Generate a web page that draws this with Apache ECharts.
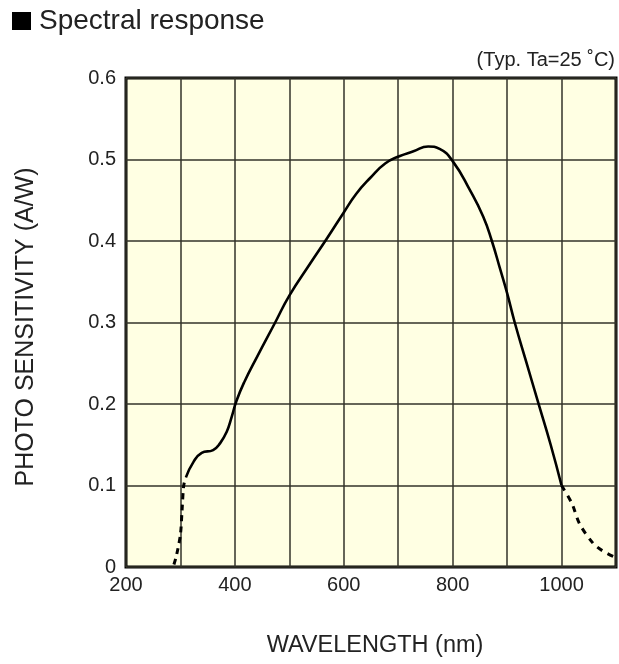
<!DOCTYPE html>
<html>
<head>
<meta charset="utf-8">
<script src="https://cdn.jsdelivr.net/npm/echarts@6/dist/echarts.min.js"></script>
<style>
html,body{margin:0;padding:0;background:#fff;}
#c{width:619px;height:664px;}
</style>
</head>
<body>
<div id="c"></div>
<script>
// Solid (measured) part of the spectral response curve
var solidWavelength = [310, 324, 339, 360, 373, 385, 394, 403, 418, 440, 474, 500, 538, 569, 600, 623, 648, 676, 702, 728, 755, 776, 800, 832, 856, 872, 887, 900, 914, 935, 957, 980, 1000];
var solidSensitivity = [0.110, 0.129, 0.140, 0.1435, 0.152, 0.166, 0.184, 0.204, 0.228, 0.257, 0.300, 0.333, 0.372, 0.403, 0.435, 0.458, 0.477, 0.495, 0.504, 0.510, 0.516, 0.513, 0.498, 0.462, 0.430, 0.400, 0.366, 0.336, 0.300, 0.252, 0.202, 0.150, 0.100];
// Dashed (extrapolated) ends
var lowWavelength = [288, 293, 300, 303, 306, 310];
var lowSensitivity = [0.003, 0.015, 0.040, 0.070, 0.100, 0.110];
var highWavelength = [1000, 1019, 1033, 1058, 1075, 1095];
var highSensitivity = [0.100, 0.078, 0.053, 0.029, 0.020, 0.013];
// Axis ticks
var xTickLabels = [200, 400, 600, 800, 1000];
var yTickLabels = [0, 0.1, 0.2, 0.3, 0.4, 0.5, 0.6];

function pairs(xs, ys) { return xs.map(function (x, i) { return [x, ys[i]]; }); }

var font = 'Liberation Sans, Arial, Helvetica, sans-serif';
var txt = '#222';
var chart = echarts.init(document.getElementById('c'), null, {renderer: 'canvas'});
chart.setOption({
  animation: false,
  grid: {left: 126, right: 3, top: 78, bottom: 97, show: true, backgroundColor: '#FFFFE3', borderColor: '#000', borderWidth: 3, z: 0},
  xAxis: {
    type: 'value', min: 200, max: 1100, interval: 100,
    axisLine: {show: false}, axisTick: {show: false},
    splitLine: {show: true, lineStyle: {color: '#33332a', width: 1.5}},
    axisLabel: {
      margin: 8, color: txt, fontSize: 20, fontFamily: font,
      formatter: function (v) { return xTickLabels.indexOf(v) >= 0 ? String(v) : ''; }
    }
  },
  yAxis: {
    type: 'value', min: 0, max: 0.6, interval: 0.1,
    axisLine: {show: false}, axisTick: {show: false},
    splitLine: {show: true, lineStyle: {color: '#33332a', width: 1.5}},
    axisLabel: {
      margin: 10, color: txt, fontSize: 20, fontFamily: font,
      formatter: function (v) {
        var r = Math.round(v * 10) / 10;
        return yTickLabels.indexOf(r) >= 0 ? String(r) : '';
      }
    }
  },
  series: [
    {type: 'line', data: pairs(solidWavelength, solidSensitivity), smooth: 0.5, showSymbol: false,
     lineStyle: {color: '#000', width: 2.6}, z: 5},
    {type: 'line', data: pairs(lowWavelength, lowSensitivity), smooth: 0.3, showSymbol: false,
     lineStyle: {color: '#000', width: 3, type: [6, 5]}, z: 5},
    {type: 'line', data: pairs(highWavelength, highSensitivity), smooth: 0.3, showSymbol: false,
     lineStyle: {color: '#000', width: 3, type: [6, 6]}, z: 5}
  ],
  graphic: [
    {type: 'rect', left: 12, top: 12, shape: {width: 19, height: 18}, style: {fill: '#000'}},
    {type: 'text', left: 39, top: 7, style: {text: 'Spectral response', font: '28px ' + font, fill: txt}},
    {type: 'text', right: 4, top: 50, style: {text: '(Typ. Ta=25 \u02daC)', font: '20px ' + font, fill: txt}},
    {type: 'text', x: 375, y: 646, style: {text: 'WAVELENGTH (nm)', font: '23.5px ' + font, fill: txt, textAlign: 'center', textVerticalAlign: 'middle'}},
    {type: 'text', x: 26, y: 327, rotation: Math.PI / 2, style: {text: 'PHOTO SENSITIVITY (A/W)', font: '25px ' + font, fill: txt, textAlign: 'center', textVerticalAlign: 'middle'}}
  ]
});
</script>
</body>
</html>
